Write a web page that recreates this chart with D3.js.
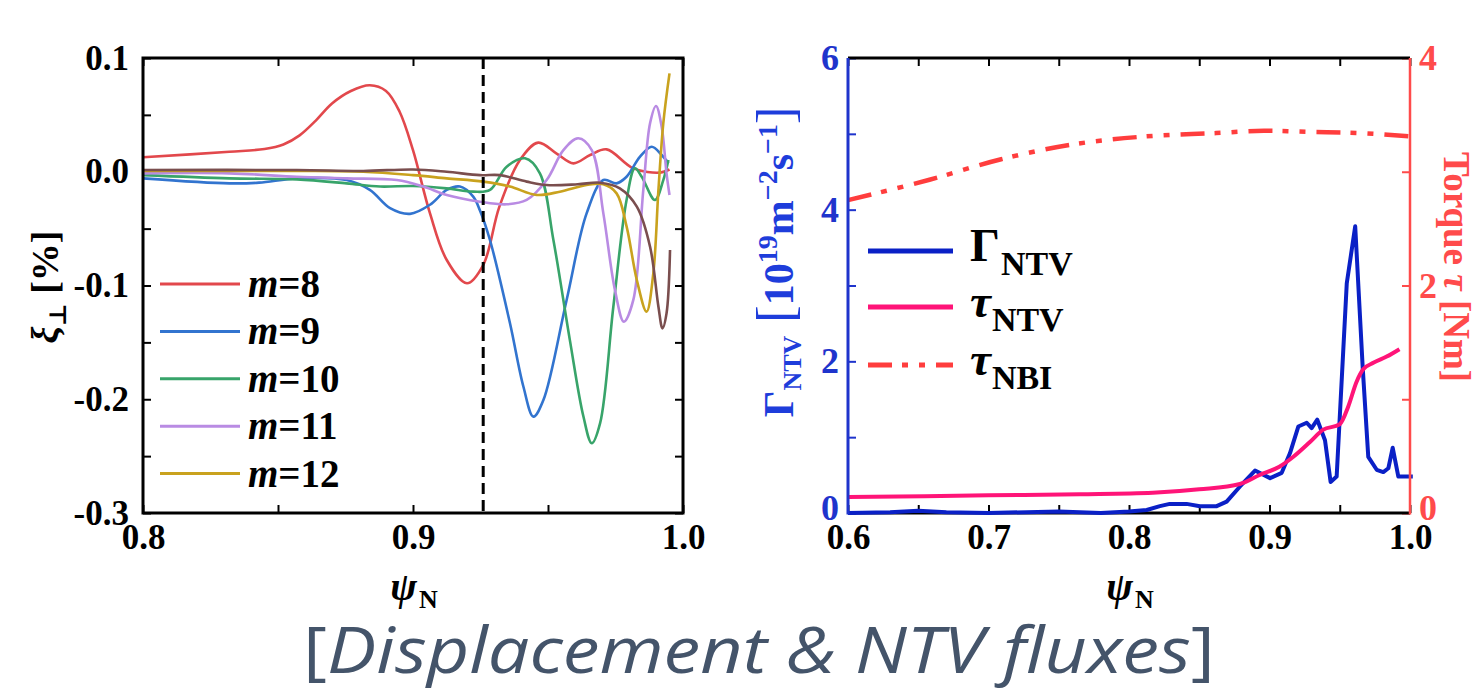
<!DOCTYPE html>
<html>
<head>
<meta charset="utf-8">
<script src="https://cdn.jsdelivr.net/npm/d3@7"></script>
<style>
  body { margin: 0; background: #fff; }
  svg { display: block; }
  .chart text { font-family: "Liberation Serif", "Times New Roman", serif; font-weight: bold; }
</style>
</head>
<body>
<svg id="chart" class="chart" width="1479" height="692"></svg>
<script>
// ---- left panel: perpendicular displacement per poloidal harmonic ----
const xTicksL = [0.8, 0.85, 0.9, 0.95, 1.0];
const yTicksL = [-0.3, -0.25, -0.2, -0.15, -0.1, -0.05, 0, 0.05, 0.1];
const qSurface = 0.926;  // dashed line position

const m8 = [[0.8,0.0127],[0.832,0.0176],[0.845,0.020],[0.852,0.024],[0.858,0.032],[0.864,0.045],[0.870,0.060],
  [0.877,0.071],[0.884,0.076],[0.890,0.071],[0.895,0.053],[0.900,0.019],[0.9063,-0.0366],[0.9125,-0.0776],[0.920,-0.098],
  [0.926,-0.082],[0.932,-0.0307],[0.9396,0.0103],[0.9464,0.0256],[0.9532,0.016],[0.9594,0.0074],[0.9656,0.0147],
  [0.9717,0.0197],[0.9816,0.003],[0.9915,-0.0008],[0.995,0.002]];
const m9 = [[0.8,-0.0058],[0.832,-0.0102],[0.843,-0.0096],[0.857,-0.0058],[0.8754,-0.0073],[0.884,-0.016],[0.8915,-0.032],
  [0.8989,-0.037],[0.9063,-0.029],[0.9125,-0.016],[0.9174,-0.013],[0.9223,-0.0219],[0.9248,-0.034],[0.9285,-0.06],
  [0.9359,-0.133],[0.9409,-0.189],[0.9446,-0.2153],[0.9483,-0.2007],[0.9569,-0.1127],[0.9643,-0.0366],[0.9705,-0.0073],
  [0.9754,-0.0102],[0.9791,-0.0044],[0.9841,0.0132],[0.9884,0.022],[0.9921,0.0147],[0.9946,0.0074]];
const m10 = [[0.8,-0.003],[0.832,-0.0058],[0.857,-0.0067],[0.8754,-0.0102],[0.8878,-0.013],[0.9,-0.0125],[0.9125,-0.0146],
  [0.9223,-0.0175],[0.9285,-0.016],[0.9347,0.0045],[0.9415,0.0118],[0.947,-0.0014],[0.952,-0.06],[0.9581,-0.148],
  [0.9631,-0.215],[0.9662,-0.2387],[0.9693,-0.221],[0.9742,-0.1187],[0.9791,-0.0248],[0.9822,0.003],[0.9847,-0.0044],
  [0.9896,-0.0248],[0.9927,-0.0073],[0.9946,0.0103]];
const m11 = [[0.8,-0.0014],[0.832,-0.0014],[0.857,-0.0044],[0.8754,-0.0058],[0.894,-0.0073],[0.9038,-0.013],[0.9125,-0.0204],
  [0.9248,-0.0263],[0.9347,-0.0286],[0.9421,-0.0248],[0.9495,-0.0073],[0.9557,0.019],[0.9612,0.0294],[0.9662,0.019],
  [0.9705,-0.0366],[0.9748,-0.104],[0.9781,-0.1318],[0.9816,-0.1127],[0.9853,-0.016],[0.9878,0.0426],[0.99,0.0578],
  [0.9921,0.0396],[0.9939,-0.0014],[0.995,-0.0204]];
const m12 = [[0.8,0.0007],[0.857,0.0007],[0.8816,0],[0.9,-0.003],[0.9125,-0.0058],[0.926,-0.0087],[0.9359,-0.013],
  [0.9458,-0.0204],[0.9544,-0.0175],[0.9643,-0.0117],[0.9705,-0.011],[0.9754,-0.019],[0.9791,-0.048],[0.9829,-0.0952],
  [0.9865,-0.123],[0.989,-0.0893],[0.9909,-0.016],[0.9927,0.0426],[0.995,0.0865]];
const m13 = [[0.8,0.0015],[0.857,0.0015],[0.8816,0.0007],[0.9,0.002],[0.9125,0],[0.9248,-0.003],[0.9322,-0.003],
  [0.9421,-0.0087],[0.9495,-0.0117],[0.961,-0.011],[0.9693,-0.0096],[0.9766,-0.0146],[0.9829,-0.0307],[0.9878,-0.0659],
  [0.9909,-0.1187],[0.9924,-0.1377],[0.9939,-0.1245],[0.9952,-0.0688]];

const harmonicNames = ['8', '9', '10', '11', '12'];

// ---- right panel: NTV flux and torques ----
const xTicksR = [0.6, 0.65, 0.7, 0.75, 0.8, 0.85, 0.9, 0.95, 1.0];
const fluxTicks = [0, 1, 2, 3, 4, 5, 6];
const torqueTicks = [0, 1, 2, 3, 4];

const gammaNTV = [[0.6,0.0],[0.63,0.01],[0.65,0.03],[0.67,0.01],[0.7,0.0],[0.75,0.02],[0.78,0.0],[0.8,0.02],[0.8126,0.04],
  [0.822,0.09],[0.829,0.12],[0.841,0.12],[0.8505,0.09],[0.8624,0.09],[0.8695,0.15],[0.879,0.35],[0.8897,0.56],[0.9004,0.46],
  [0.9087,0.53],[0.9146,0.79],[0.9205,1.14],[0.9265,1.19],[0.930,1.12],[0.934,1.23],[0.9395,0.96],[0.9435,0.41],[0.9478,0.48],
  [0.955,3.03],[0.961,3.78],[0.9663,1.93],[0.9703,0.74],[0.9763,0.57],[0.981,0.54],[0.9846,0.59],[0.9877,0.86],[0.9917,0.48],
  [1.002,0.48]];
const tauNTV = [[0.6,0.14],[0.7,0.155],[0.765,0.165],[0.817,0.178],[0.85,0.208],[0.879,0.255],[0.893,0.334],[0.907,0.407],
  [0.917,0.495],[0.929,0.627],[0.938,0.73],[0.95,0.78],[0.956,0.935],[0.962,1.154],[0.9667,1.263],[0.9739,1.32],
  [0.9834,1.375],[0.9925,1.44]];
const tauNBI = [[0.6,2.75],[0.658,2.93],[0.709,3.11],[0.76,3.24],[0.811,3.31],[0.862,3.34],[0.896,3.36],[0.93,3.35],
  [0.964,3.34],[1.0,3.31]];

const svg = d3.select('#chart');
svg.append('rect').attr('width', 1479).attr('height', 692).attr('fill', '#fff');

const isMajor = d => Math.abs(d * 10 - Math.round(d * 10)) < 1e-6;
const fmt1 = d => isMajor(d) ? d3.format('.1f')(d).replace('−', '-') : '';

function styleAxis(g, color, size) {
  g.select('.domain').remove();
  g.selectAll('.tick line').attr('stroke', color).attr('stroke-width', 2);
  g.selectAll('.tick text').attr('fill', color).style('font-size', size + 'px');
}

// ===== left panel =====
const L = { left: 143, right: 683, top: 58, bottom: 513 };
const xL = d3.scaleLinear().domain([0.8, 1.0]).range([L.left, L.right]);
const yL = d3.scaleLinear().domain([-0.3, 0.1]).range([L.bottom, L.top]);

svg.append('g').attr('transform', `translate(0,${L.bottom})`)
  .call(d3.axisBottom(xL).tickValues(xTicksL).tickSize(-8).tickPadding(11).tickFormat(fmt1))
  .call(g => styleAxis(g, '#000', 35));
svg.append('g').attr('transform', `translate(0,${L.top})`)
  .call(d3.axisTop(xL).tickValues(xTicksL).tickSize(-8).tickFormat(''))
  .call(g => styleAxis(g, '#000', 35));
svg.append('g').attr('transform', `translate(${L.left},0)`)
  .call(d3.axisLeft(yL).tickValues(yTicksL).tickSize(-8).tickPadding(14).tickFormat(fmt1))
  .call(g => styleAxis(g, '#000', 35));
svg.append('g').attr('transform', `translate(${L.right},0)`)
  .call(d3.axisRight(yL).tickValues(yTicksL).tickSize(-8).tickFormat(''))
  .call(g => styleAxis(g, '#000', 35));

const lineL = d3.line().x(d => xL(d[0])).y(d => yL(d[1])).curve(d3.curveCatmullRom.alpha(0.5));
const seriesL = [
  { data: m8, color: '#e2484c' },
  { data: m9, color: '#3274cf' },
  { data: m10, color: '#38a46a' },
  { data: m11, color: '#b98be3' },
  { data: m12, color: '#c9a21e' },
  { data: m13, color: '#7a4e4e' }
];
seriesL.forEach(s => {
  svg.append('path').datum(s.data)
    .attr('fill', 'none').attr('stroke', s.color).attr('stroke-width', 2.6)
    .attr('d', lineL);
});

svg.append('line')
  .attr('x1', xL(qSurface)).attr('x2', xL(qSurface))
  .attr('y1', yL(0.1)).attr('y2', yL(-0.3))
  .attr('stroke', '#000').attr('stroke-width', 3).attr('stroke-dasharray', '11,6');

svg.append('rect')
  .attr('x', L.left).attr('y', L.top).attr('width', L.right - L.left).attr('height', L.bottom - L.top)
  .attr('fill', 'none').attr('stroke', '#000').attr('stroke-width', 3);

// legend
const legL = svg.append('g');
harmonicNames.forEach((n, i) => {
  const y = 284 + i * 47.4;
  legL.append('line').attr('x1', 160).attr('x2', 240).attr('y1', y).attr('y2', y)
    .attr('stroke', seriesL[i].color).attr('stroke-width', 3);
  const t = legL.append('text').attr('x', 248).attr('y', y + 13).style('font-size', '39px');
  t.append('tspan').style('font-style', 'italic').text('m');
  t.append('tspan').text('=' + n);
});

// axis titles
const ylabL = svg.append('text').attr('transform', 'translate(58,287) rotate(-90)')
  .attr('text-anchor', 'middle').style('font-size', '38px');
ylabL.append('tspan').style('font-style', 'italic').text('ξ');
ylabL.append('tspan').attr('dy', 8).style('font-size', '24px').style('font-family', 'DejaVu Serif').text('⊥');
ylabL.append('tspan').attr('dy', -8).text(' [%]');

function psiLabel(x) {
  svg.append('text').attr('x', x + 4).attr('y', 600).attr('text-anchor', 'end')
    .style('font-size', '40px').style('font-style', 'italic').text('ψ');
  svg.append('text').attr('x', x + 6).attr('y', 608)
    .style('font-size', '26px').text('N');
}
psiLabel(L.left + (L.right - L.left) / 2);

// ===== right panel =====
const R = { left: 848, right: 1410, top: 58, bottom: 513 };
const xR = d3.scaleLinear().domain([0.6, 1.0]).range([R.left, R.right]);
const yFlux = d3.scaleLinear().domain([0, 6]).range([R.bottom, R.top]);
const yTorque = d3.scaleLinear().domain([0, 4]).range([R.bottom, R.top]);

const blueAxis = '#1f34cc', redAxis = '#ff4b4b';

svg.append('g').attr('transform', `translate(0,${R.bottom})`)
  .call(d3.axisBottom(xR).tickValues(xTicksR).tickSize(-8).tickPadding(11).tickFormat(fmt1))
  .call(g => styleAxis(g, '#000', 35));
svg.append('g').attr('transform', `translate(0,${R.top})`)
  .call(d3.axisTop(xR).tickValues(xTicksR).tickSize(-8).tickFormat(''))
  .call(g => styleAxis(g, '#000', 35));
svg.append('g').attr('transform', `translate(${R.left},0)`)
  .call(d3.axisLeft(yFlux).tickValues(fluxTicks).tickSize(-8).tickPadding(9)
    .tickFormat(d => d % 2 === 0 ? d : ''))
  .call(g => styleAxis(g, blueAxis, 36))
  .call(g => g.selectAll('.tick text').filter(d => d === 0).attr('dy', '0.18em'));
svg.append('g').attr('transform', `translate(${R.right},0)`)
  .call(d3.axisRight(yTorque).tickValues(torqueTicks).tickSize(-8).tickPadding(9)
    .tickFormat(d => d % 2 === 0 ? d : ''))
  .call(g => styleAxis(g, redAxis, 36))
  .call(g => g.selectAll('.tick text').filter(d => d === 0).attr('dy', '0.18em'));

// frame
svg.append('line').attr('x1', R.left).attr('x2', R.right).attr('y1', R.top).attr('y2', R.top)
  .attr('stroke', '#000').attr('stroke-width', 3);
svg.append('line').attr('x1', R.left).attr('x2', R.right).attr('y1', R.bottom).attr('y2', R.bottom)
  .attr('stroke', '#000').attr('stroke-width', 3);

svg.append('path').datum(gammaNTV)
  .attr('fill', 'none').attr('stroke', '#0a20c6').attr('stroke-width', 4).attr('stroke-linejoin', 'round')
  .attr('d', d3.line().x(d => xR(d[0])).y(d => yFlux(d[1])));
svg.append('path').datum(tauNTV)
  .attr('fill', 'none').attr('stroke', '#ff1478').attr('stroke-width', 4)
  .attr('d', d3.line().x(d => xR(d[0])).y(d => yTorque(d[1])).curve(d3.curveMonotoneX));
svg.append('path').datum(tauNBI)
  .attr('fill', 'none').attr('stroke', '#ff3d3d').attr('stroke-width', 4.5)
  .attr('stroke-dasharray', '24,10,6,11,6,11')
  .attr('d', d3.line().x(d => xR(d[0])).y(d => yTorque(d[1])).curve(d3.curveMonotoneX));

svg.append('line').attr('x1', R.left).attr('x2', R.left).attr('y1', R.top).attr('y2', R.bottom + 1.5)
  .attr('stroke', blueAxis).attr('stroke-width', 3);
svg.append('line').attr('x1', R.right).attr('x2', R.right).attr('y1', R.top).attr('y2', R.bottom + 1.5)
  .attr('stroke', redAxis).attr('stroke-width', 2.5);

// legend
const legR = [
  { sym: 'Γ', sub: 'NTV', color: '#0a20c6', dash: null, y: 251 },
  { sym: 'τ', sub: 'NTV', color: '#ff1478', dash: null, y: 307 },
  { sym: 'τ', sub: 'NBI', color: '#ff3d3d', dash: '24,10,6,11,6,11', y: 365 }
];
legR.forEach(d => {
  svg.append('line').attr('x1', 868).attr('x2', 953).attr('y1', d.y).attr('y2', d.y)
    .attr('stroke', d.color).attr('stroke-width', 5).attr('stroke-dasharray', d.dash);
  const t = svg.append('text').attr('x', 970).attr('y', d.y + 10).style('font-size', '47px');
  t.append('tspan').style('font-style', d.sym === 'τ' ? 'italic' : 'normal').text(d.sym);
  t.append('tspan').attr('dx', 1).attr('dy', 14).style('font-size', '34px').text(d.sub);
});

psiLabel(R.left + (R.right - R.left) / 2);

// blue y label
const ylabR = svg.append('text').attr('transform', 'translate(793,262) rotate(-90)')
  .attr('text-anchor', 'middle').attr('fill', '#1e3ddb').style('font-size', '42px');
ylabR.append('tspan').text('Γ');
ylabR.append('tspan').attr('dy', 8).style('font-size', '26px').text('NTV');
ylabR.append('tspan').attr('dy', -8).style('font-size', '52px').style('font-weight', 'normal').text(' [');
ylabR.append('tspan').text('10');
ylabR.append('tspan').attr('dy', -16).style('font-size', '28px').text('19');
ylabR.append('tspan').attr('dy', 16).text('m');
ylabR.append('tspan').attr('dy', -16).style('font-size', '28px').text('−2');
ylabR.append('tspan').attr('dy', 16).text('s');
ylabR.append('tspan').attr('dy', -16).style('font-size', '28px').text('−1');
ylabR.append('tspan').attr('dy', 16).style('font-size', '52px').style('font-weight', 'normal').text(']');

// red y label
const ylabT = svg.append('text').attr('transform', 'translate(1444,267) rotate(90)')
  .attr('text-anchor', 'middle').attr('fill', redAxis).style('font-size', '37px');
ylabT.append('tspan').text('Torque ');
ylabT.append('tspan').style('font-style', 'italic').text('τ');
ylabT.append('tspan').text(' [Nm]');

// ===== caption =====
const cap = svg.append('text').attr('x', 0).attr('y', 0)
  .style('font-family', '"Open Sans", "Noto Sans", sans-serif').style('font-weight', 'normal')
  .attr('fill', '#44546a').style('font-size', '64px');
cap.append('tspan').text('[');
cap.append('tspan').style('font-style', 'italic').text('Displacement & NTV fluxes');
cap.append('tspan').text(']');
const capW = cap.node().getComputedTextLength();
cap.attr('transform', `translate(303,673) scale(${912 / capW},1)`);
</script>
</body>
</html>
